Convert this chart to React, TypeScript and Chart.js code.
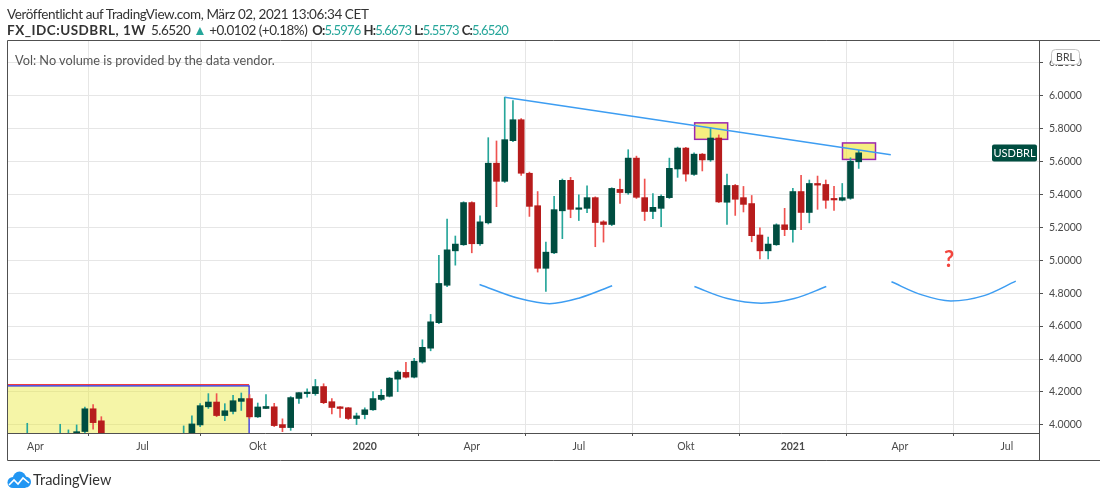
import React, { useEffect, useRef } from 'react';
import { Chart, registerables } from 'chart.js';

Chart.register(...registerables);

// Weekly USDBRL candles, oldest first (last one = week of 1 Mar 2021)
const opens = [
  3.83, 3.82, 3.89, 3.92, 3.87, 3.88, 3.91, 3.93, 3.92, 3.96,
  4.098, 4.025, 3.93, 3.87, 3.89, 3.83, 3.84, 3.82, 3.75, 3.74,
  3.78, 3.87, 3.93, 4.0, 4.11, 4.139, 4.057, 4.082, 4.143, 4.16,
  4.049, 4.1, 4.11, 4.002, 3.984, 4.161, 4.19, 4.19, 4.233, 4.141,
  4.11, 4.104, 4.039, 4.063, 4.092, 4.155, 4.174, 4.278, 4.319, 4.29,
  4.382, 4.466, 4.621, 4.848, 5.057, 5.094, 5.35, 5.1, 5.227, 5.589,
  5.479, 5.726, 5.853, 5.528, 5.331, 4.951, 5.045, 5.3, 5.485, 5.309,
  5.315, 5.38, 5.233, 5.217, 5.43, 5.409, 5.62, 5.38, 5.296, 5.315,
  5.38, 5.554, 5.681, 5.521, 5.644, 5.609, 5.742, 5.352, 5.454, 5.38,
  5.344, 5.153, 5.057, 5.094, 5.215, 5.186, 5.417, 5.29, 5.466, 5.46,
  5.37, 5.364, 5.376, 5.5976,
];
const highs = [
  3.87, 3.9, 4.01, 3.93, 3.9, 3.94, 4.004, 3.97, 4.0, 4.109,
  4.123, 4.05, 3.94, 3.93, 3.9, 3.87, 3.85, 3.84, 3.76, 3.79,
  3.89, 3.994, 4.055, 4.129, 4.19, 4.19, 4.129, 4.18, 4.194, 4.184,
  4.133, 4.184, 4.131, 4.037, 4.172, 4.196, 4.219, 4.276, 4.25, 4.16,
  4.112, 4.106, 4.072, 4.104, 4.202, 4.215, 4.288, 4.33, 4.38, 4.405,
  4.517, 4.671, 5.03, 5.25, 5.147, 5.355, 5.355, 5.27, 5.744, 5.724,
  5.99, 5.969, 5.86, 5.535, 5.417, 5.11, 5.388, 5.493, 5.503, 5.397,
  5.452, 5.385, 5.24, 5.44, 5.493, 5.671, 5.632, 5.493, 5.405, 5.397,
  5.62, 5.687, 5.685, 5.652, 5.648, 5.804, 5.761, 5.523, 5.46, 5.448,
  5.393, 5.196, 5.141, 5.221, 5.315, 5.437, 5.515, 5.487, 5.511, 5.487,
  5.448, 5.466, 5.622, 5.6673,
];
const lows = [
  3.79, 3.78, 3.85, 3.83, 3.82, 3.86, 3.89, 3.9, 3.91, 3.94,
  3.975, 3.92, 3.85, 3.85, 3.82, 3.82, 3.78, 3.74, 3.71, 3.72,
  3.74, 3.86, 3.9, 3.99, 4.1, 4.05, 4.026, 4.067, 4.088, 4.04,
  4.045, 4.098, 3.99, 3.959, 3.967, 4.131, 4.168, 4.18, 4.129, 4.067,
  4.045, 4.033, 4.002, 4.037, 4.088, 4.149, 4.17, 4.202, 4.285, 4.285,
  4.375, 4.45, 4.615, 4.84, 4.97, 5.09, 5.045, 5.09, 5.22, 5.325,
  5.472, 5.72, 5.515, 5.266, 4.928, 4.81, 5.04, 5.131, 5.258, 5.241,
  5.288, 5.082, 5.11, 5.21, 5.345, 5.4, 5.375, 5.241, 5.253, 5.204,
  5.375, 5.503, 5.48, 5.515, 5.542, 5.6, 5.35, 5.217, 5.272, 5.293,
  5.112, 5.008, 5.008, 5.09, 5.149, 5.11, 5.186, 5.227, 5.309, 5.315,
  5.303, 5.36, 5.37, 5.5573,
];
const closes = [
  3.82, 3.89, 3.92, 3.87, 3.88, 3.93, 3.94, 3.945, 3.959, 4.098,
  4.014, 3.93, 3.87, 3.89, 3.83, 3.84, 3.82, 3.75, 3.74, 3.78,
  3.87, 3.94, 4.006, 4.117, 4.139, 4.057, 4.086, 4.147, 4.16, 4.049,
  4.109, 4.112, 3.996, 3.984, 4.166, 4.196, 4.198, 4.233, 4.135, 4.106,
  4.1, 4.039, 4.055, 4.092, 4.16, 4.18, 4.284, 4.321, 4.29, 4.387,
  4.471, 4.626, 4.859, 5.063, 5.098, 5.35, 5.1, 5.233, 5.589, 5.479,
  5.732, 5.853, 5.528, 5.327, 4.951, 5.049, 5.307, 5.485, 5.309, 5.312,
  5.38, 5.229, 5.217, 5.436, 5.411, 5.62, 5.382, 5.296, 5.321, 5.388,
  5.558, 5.681, 5.523, 5.644, 5.609, 5.742, 5.354, 5.454, 5.37, 5.339,
  5.149, 5.057, 5.098, 5.215, 5.186, 5.417, 5.29, 5.466, 5.456, 5.364,
  5.366, 5.38, 5.601, 5.652,
];

// Time axis: ticks in weeks relative to the last candle
const timeTickWeeks = [-100, -87, -73, -60, -47, -34, -21, -8, 5, 18];
const timeTickLabels = ['Apr', 'Jul', 'Okt', '2020', 'Apr', 'Jul', 'Okt', '2021', 'Apr', 'Jul'];
const priceTicks = [4.0, 4.2, 4.4, 4.6, 4.8, 5.0, 5.2, 5.4, 5.6, 5.8, 6.0, 6.2];

// Drawings (in weeks / price units)
const trendX = [-43, 3.9];
const trendY = [5.99, 5.64];
const arc1X = [-46.06, -41.2, -37.56, -33.92, -29.95];
const arc1Y = [4.853, 4.767, 4.736, 4.771, 4.845];
const arc2X = [-19.96, -15.96, -11.83, -7.83, -3.94];
const arc2Y = [4.84, 4.767, 4.739, 4.767, 4.84];
const arc3X = [3.98, 7.58, 11.19, 15.23, 19.08];
const arc3Y = [4.869, 4.791, 4.753, 4.785, 4.873];
const markBoxX1 = [-19.93, -1.97];
const markBoxX2 = [-15.92, 2.04];
const markBoxY1 = [5.734, 5.612];
const markBoxY2 = [5.834, 5.712];
const rangeBoxX = [-120, -74.05];
const rangeBoxY = [3.0, 4.237];
const rangeTopLine = 4.245;
const questionX = 10.98;
const questionY = 5.0;

const X_MIN = -103.46;
const X_MAX = 21.9;
const Y_MIN = 3.951;
const Y_MAX = 6.331;

const BULL_BODY = '#004d40';
const BEAR_BODY = '#b71c1c';
const BULL_WICK = '#26a69a';
const BEAR_WICK = '#ef5350';
const LINE_BLUE = '#3d9df2';
const FRAME = '#505050';
const GRID = '#e6e6e6';
const AXIS_FONT = 'Lato';

const annotationPlugin = {
  id: 'tvAnnotations',
  beforeDatasetsDraw(chart: any) {
    const { ctx, chartArea, scales } = chart;
    const x = scales.x;
    const y = scales.y;
    ctx.save();
    ctx.beginPath();
    ctx.rect(chartArea.left, chartArea.top, chartArea.right - chartArea.left, chartArea.bottom - chartArea.top);
    ctx.clip();
    // big pale range box
    const bx1 = x.getPixelForValue(rangeBoxX[0]);
    const bx2 = x.getPixelForValue(rangeBoxX[1]);
    const by1 = y.getPixelForValue(rangeBoxY[1]);
    const by2 = y.getPixelForValue(rangeBoxY[0]);
    ctx.fillStyle = 'rgba(232, 232, 60, 0.45)';
    ctx.fillRect(bx1, by1, bx2 - bx1, by2 - by1);
    const ry = y.getPixelForValue(rangeTopLine);
    ctx.strokeStyle = '#f03030';
    ctx.lineWidth = 1;
    ctx.beginPath();
    ctx.moveTo(bx1, ry);
    ctx.lineTo(bx2, ry);
    ctx.stroke();
    ctx.strokeStyle = '#1f1fe0';
    ctx.lineWidth = 1.2;
    ctx.beginPath();
    ctx.moveTo(bx1, by1);
    ctx.lineTo(bx2, by1);
    ctx.lineTo(bx2, by2);
    ctx.stroke();
    // small highlight boxes
    for (let i = 0; i < markBoxX1.length; i++) {
      const a = x.getPixelForValue(markBoxX1[i]);
      const b = x.getPixelForValue(markBoxX2[i]);
      const t = y.getPixelForValue(markBoxY2[i]);
      const u = y.getPixelForValue(markBoxY1[i]);
      ctx.fillStyle = 'rgba(240, 228, 50, 0.62)';
      ctx.fillRect(a, t, b - a, u - t);
      ctx.strokeStyle = '#9c27b0';
      ctx.lineWidth = 1.5;
      ctx.strokeRect(a, t, b - a, u - t);
    }
    ctx.restore();
  },
  afterDatasetsDraw(chart: any) {
    const { ctx, chartArea, scales } = chart;
    const x = scales.x;
    const y = scales.y;
    ctx.save();
    // question mark
    ctx.fillStyle = '#f2453d';
    ctx.font = 'bold 22px Lato';
    ctx.textAlign = 'center';
    ctx.textBaseline = 'middle';
    ctx.fillText('?', x.getPixelForValue(questionX), y.getPixelForValue(questionY));
    // symbol badge at last close
    const last = closes[closes.length - 1];
    const py = Math.round(y.getPixelForValue(last));
    const w = 45;
    const h = 17;
    const left = chartArea.right - 2 - w;
    ctx.fillStyle = '#004d40';
    ctx.beginPath();
    (ctx as any).roundRect(left, py - h / 2, w, h, 2);
    ctx.fill();
    ctx.fillStyle = '#ffffff';
    ctx.font = '11px Lato';
    ctx.fillText('USDBRL', left + w / 2, py + 0.5);
    ctx.restore();
  },
  afterDraw(chart: any) {
    const { ctx, chartArea } = chart;
    ctx.save();
    ctx.strokeStyle = FRAME;
    ctx.lineWidth = 1;
    const l = chartArea.left + 0.5;
    const t = chartArea.top - 0.5;
    const r = chart.width;
    const b = chartArea.bottom + 28 - 0.5;
    ctx.beginPath();
    ctx.moveTo(l, b);
    ctx.lineTo(l, t);
    ctx.lineTo(r, t);
    ctx.moveTo(l, b);
    ctx.lineTo(r, b);
    ctx.moveTo(chartArea.right + 0.5, chartArea.bottom);
    ctx.lineTo(chartArea.right + 0.5, b);
    ctx.stroke();
    // currency badge
    const bx = chartArea.right + 12.5;
    const by = chartArea.top + 8.5;
    ctx.fillStyle = '#ffffff';
    ctx.strokeStyle = '#c4c4c4';
    ctx.beginPath();
    (ctx as any).roundRect(bx, by, 28, 15, 4);
    ctx.fill();
    ctx.stroke();
    ctx.fillStyle = '#444';
    ctx.font = '10.5px Lato';
    ctx.textAlign = 'center';
    ctx.textBaseline = 'middle';
    ctx.fillText('BRL', bx + 14, by + 8);
    ctx.restore();
  },
};

function App() {
  const canvasRef = useRef<HTMLCanvasElement | null>(null);

  useEffect(() => {
    const canvas = canvasRef.current;
    if (!canvas) return;
    const n = opens.length;
    const xs = opens.map((_, i) => i - (n - 1));
    const bull = opens.map((o, i) => closes[i] >= o);
    const pts = (ax: number[], ay: number[]) => ax.map((v, i) => ({ x: v, y: ay[i] }));
    const lineDs = (ax: number[], ay: number[], smooth: boolean) => ({
      type: 'line' as const,
      data: pts(ax, ay),
      borderColor: LINE_BLUE,
      borderWidth: 1.5,
      pointRadius: 0,
      fill: false,
      tension: smooth ? 0.4 : 0,
      cubicInterpolationMode: smooth ? ('monotone' as const) : ('default' as const),
      order: 1,
    });

    const chart = new Chart(canvas, {
      type: 'bar',
      data: {
        datasets: [
          {
            type: 'bar',
            data: xs.map((x, i) => ({ x, y: [lows[i], highs[i]] })) as any,
            backgroundColor: bull.map((b) => (b ? BULL_WICK : BEAR_WICK)),
            barThickness: 1,
            minBarLength: 1,
            grouped: false,
            borderWidth: 0,
            order: 3,
          },
          {
            type: 'bar',
            data: xs.map((x, i) => ({ x, y: [opens[i], closes[i]] })) as any,
            backgroundColor: bull.map((b) => (b ? BULL_BODY : BEAR_BODY)),
            barThickness: 6,
            minBarLength: 1.5,
            grouped: false,
            borderWidth: 0,
            order: 2,
          },
          lineDs(trendX, trendY, false) as any,
          lineDs(arc1X, arc1Y, true) as any,
          lineDs(arc2X, arc2Y, true) as any,
          lineDs(arc3X, arc3Y, true) as any,
        ],
      },
      options: {
        responsive: false,
        animation: false,
        events: [],
        layout: { padding: { left: 7, top: 41, right: 8, bottom: 37 } },
        plugins: { legend: { display: false }, tooltip: { enabled: false } },
        scales: {
          x: {
            type: 'linear',
            min: X_MIN,
            max: X_MAX,
            offset: false,
            afterBuildTicks: (s: any) => {
              s.ticks = timeTickWeeks.map((v) => ({ value: v }));
            },
            afterFit: (s: any) => {
              s.height = 28;
            },
            ticks: {
              autoSkip: false,
              maxRotation: 0,
              minRotation: 0,
              padding: 4,
              color: '#4a4a4a',
              font: (c: any) => ({
                family: AXIS_FONT,
                size: 10.5,
                weight: /^\d{4}$/.test(timeTickLabels[c.index] || '') ? 'bold' : 'normal',
              }),
              callback: (_v: any, i: number) => timeTickLabels[i],
            },
            grid: { color: GRID, tickColor: FRAME, tickLength: 3, lineWidth: 1 },
            border: { color: FRAME, width: 1 },
          },
          y: {
            type: 'linear',
            position: 'right',
            min: Y_MIN,
            max: Y_MAX,
            afterBuildTicks: (s: any) => {
              s.ticks = priceTicks.map((v) => ({ value: v }));
            },
            afterFit: (s: any) => {
              s.width = 53;
            },
            ticks: {
              padding: 6,
              color: '#4a4a4a',
              font: { family: AXIS_FONT, size: 10.5 },
              callback: (v: any) => Number(v).toFixed(4),
            },
            grid: { color: GRID, tickColor: FRAME, tickLength: 4, lineWidth: 1 },
            border: { color: FRAME, width: 1 },
          },
        },
      } as any,
      plugins: [annotationPlugin as any],
    });
    return () => chart.destroy();
  }, []);

  const teal = '#26a69a';
  const hdr: React.CSSProperties = {
    position: 'absolute',
    left: 7,
    fontFamily: 'Lato, sans-serif',
    fontSize: 13.5,
    letterSpacing: '-0.4px',
    color: '#333',
    whiteSpace: 'nowrap',
    lineHeight: '16px',
  };
  const grp: React.CSSProperties = { marginLeft: 3, fontSize: 13, letterSpacing: '-0.8px' };

  return (
    <div style={{ position: 'absolute', left: 0, top: 0, width: 1100, height: 498, background: '#fff', overflow: 'hidden' }}>
      <canvas ref={canvasRef} width={1100} height={498} style={{ position: 'absolute', left: 0, top: 0, width: 1100, height: 498 }} />
      <div style={{ ...hdr, top: 6 }}>Veröffentlicht auf TradingView.com, März 02, 2021 13:06:34 CET</div>
      <div style={{ ...hdr, top: 22, letterSpacing: '-0.5px' }}>
        <b style={{ letterSpacing: '0.5px' }}>FX_IDC:USDBRL, 1W</b>
        <span style={{ marginLeft: 5 }}>5.6520</span>
        <span style={{ color: teal, marginLeft: 3 }}>▲</span>
        <span style={{ marginLeft: 3 }}>+0.0102 (+0.18%)</span>
        <span style={{ ...grp, marginLeft: 5 }}><b>O:</b><span style={{ color: teal }}>5.5976</span></span>
        <span style={grp}><b>H:</b><span style={{ color: teal }}>5.6673</span></span>
        <span style={grp}><b>L:</b><span style={{ color: teal }}>5.5573</span></span>
        <span style={grp}><b>C:</b><span style={{ color: teal }}>5.6520</span></span>
      </div>
      <div style={{ ...hdr, left: 15, top: 52, fontSize: 12.75, letterSpacing: '0px', color: '#555' }}>Vol: No volume is provided by the data vendor.</div>
      <svg style={{ position: 'absolute', left: 7, top: 471 }} width={24} height={18} viewBox="0 0 24 18">
        <circle cx={6} cy={11.5} r={5.5} fill="#2196f3" />
        <circle cx={12.5} cy={7} r={6.5} fill="#2196f3" />
        <circle cx={18.5} cy={11} r={5.5} fill="#2196f3" />
        <rect x={6} y={10} width={12.5} height={7} fill="#2196f3" />
        <polyline points="2,14 7,9 11,13 16,7 22,12" fill="none" stroke="#fff" strokeWidth={1.6} />
      </svg>
      <div style={{ ...hdr, left: 33, top: 472, fontSize: 14.5, letterSpacing: '0px', color: '#333' }}>TradingView</div>
    </div>
  );
}

export default App;
